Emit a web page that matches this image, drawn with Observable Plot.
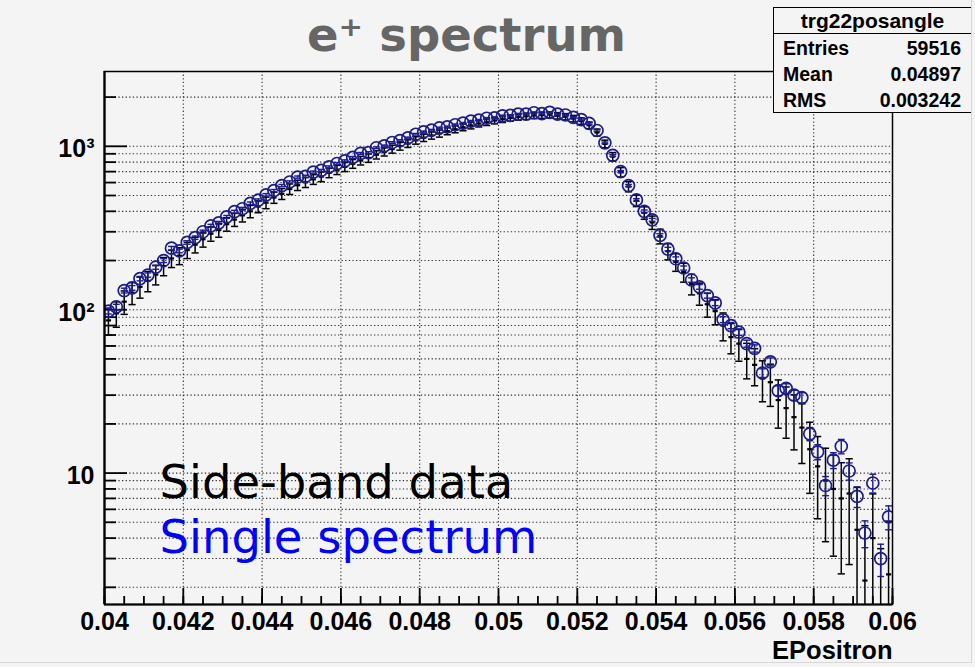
<!DOCTYPE html>
<html>
<head>
<meta charset="utf-8">
<script src="https://cdn.jsdelivr.net/npm/d3@7"></script>
<script src="https://cdn.jsdelivr.net/npm/@observablehq/plot@0.6"></script>
<style>
  html, body { margin: 0; padding: 0; background: #f4f4f4; }
  #chart { position: relative; width: 975px; height: 667px; }
  #chart svg { position: absolute; left: 0; top: 0; }
  .stats {
    position: absolute; left: 773px; top: 7px; width: 199px; height: 106px;
    box-sizing: border-box; border: 1.5px solid #000; background: #f4f4f4;
    font-family: "Liberation Sans", Arial, sans-serif; font-weight: bold; color: #000;
  }
  .stats .head { height: 25px; line-height: 25px; font-size: 21px; text-align: center; border-bottom: 1.5px solid #000; }
  .stats .row { display: flex; justify-content: space-between; height: 26px; line-height: 29px; font-size: 19.5px; padding: 0 10px 0 9px; }
  .frame-edge { position: absolute; left: 0; top: 0; width: 972px; height: 663px; box-sizing: border-box; border-right: 1px solid #d8d8d8; border-bottom: 1px solid #d8d8d8; pointer-events: none; }
</style>
</head>
<body>
<div id="chart"></div>
<script>
// Histogram binning of EPositron: 100 bins from 0.04 to 0.06
const binLow = 0.04;
const binWidth = 0.0002;

// Single spectrum (blue open circles), counts per bin
const singleCounts = [
  98, 104, 131, 136, 155, 163, 182, 200, 238, 229,
  258, 276, 300, 326, 340, 370, 398, 415, 448, 468,
  505, 535, 575, 605, 648, 655, 695, 712, 748, 785,
  815, 855, 905, 915, 980, 1005, 1055, 1085, 1125, 1185,
  1225, 1255, 1295, 1315, 1355, 1385, 1425, 1445, 1485, 1495,
  1535, 1545, 1575, 1575, 1605, 1585, 1612, 1575, 1555, 1505,
  1455, 1380, 1250, 1050, 880, 700, 575, 470, 400, 355,
  285, 235, 205, 180, 152, 138, 122, 110, 87, 80,
  73, 62, 58, 41, 48, 32, 33, 30, 29, 17.4,
  13.5, 8.4, 12, 14.6, 10.3, 7.2, 4.3, 8.7, 3.0, 5.4
];

// Side-band data (black), scaled counts per bin
const sidebandCounts = [
  86, 95, 112, 127, 138, 150, 164, 185, 206, 214,
  232, 250, 270, 292, 308, 334, 356, 378, 400, 428,
  452, 486, 512, 548, 578, 602, 628, 652, 688, 718,
  748, 782, 818, 848, 888, 925, 962, 1002, 1040, 1088,
  1128, 1165, 1198, 1238, 1272, 1308, 1342, 1378, 1405, 1438,
  1465, 1490, 1512, 1528, 1545, 1552, 1560, 1538, 1518, 1478,
  1428, 1345, 1215, 1035, 865, 695, 568, 465, 392, 342,
  282, 228, 196, 170, 144, 126, 108, 98, 80, 68,
  62, 50, 46, 38, 36, 28, 25, 22, 19, 14,
  11, 9, 8, 7, 7.5, 4.5, 2.2, 4, 1.4, 2.4
];

// Per-event weights of the two samples (errors are sqrt(sum of w^2))
const singleWeight = 0.15;
const sidebandWeight = 3;

const xDomain = [0.04, 0.06];
const yDomain = [1.57, 2870];
const xMajorTicks = [0.04, 0.042, 0.044, 0.046, 0.048, 0.05, 0.052, 0.054, 0.056, 0.058, 0.06];
const yLabelTicks = [10, 100, 1000];
const yLabelText = {10: "10", 100: "10\u00b2", 1000: "10\u00b3"};

const statsTitle = "trg22posangle";
const statsRows = [["Entries", "59516"], ["Mean", "0.04897"], ["RMS", "0.003242"]];

function binTable(counts, weight) {
  return counts.map((n, i) => {
    const err = Math.sqrt(n * weight);
    return {x: binLow + binWidth * (i + 0.5), y: n, lo: Math.max(n - err, 0.05), hi: n + err};
  });
}
const single = binTable(singleCounts, singleWeight);
const sideband = binTable(sidebandCounts, sidebandWeight);

// log-axis minor positions 2..9 x 10^k inside the y domain
const yMinor = [];
for (const dec of [1, 10, 100, 1000]) for (let m = 1; m <= 9; ++m) {
  const v = m * dec;
  if (v >= yDomain[0] && v <= yDomain[1]) yMinor.push(v);
}
const xMinor = d3.range(0, 41).map(i => xDomain[0] + i * 0.0005);
const xInnerMajor = xMajorTicks.slice(1, -1);

// flat cap used for error-bar ends
const hbar = {draw(ctx, size) { const w = Math.sqrt(size / Math.PI); ctx.moveTo(-w, 0); ctx.lineTo(w, 0); }};

const labelFont = "'Liberation Sans', Arial, sans-serif";
const frameW = 975 - 104 - 83;
const frameH = 667 - 71 - 63;
const navy = "#1c1c8c";

const chart = Plot.plot({
  width: 975,
  height: 667,
  marginLeft: 104,
  marginRight: 83,
  marginTop: 71,
  marginBottom: 63,
  style: {background: "transparent", overflow: "visible"},
  x: {domain: xDomain, axis: null},
  y: {type: "log", domain: yDomain, axis: null},
  marks: [
    // dotted grid
    Plot.ruleY(yMinor, {stroke: "#000", strokeOpacity: 0.8, strokeDasharray: "1.3,2.3", strokeWidth: 1.1}),
    Plot.ruleX(xInnerMajor, {stroke: "#000", strokeOpacity: 0.8, strokeDasharray: "1.3,2.3", strokeWidth: 1.1}),

    // inward tick marks on the left and bottom axes
    Plot.tickY(yMinor.filter(v => !yLabelTicks.includes(v)), {stroke: "#000", strokeWidth: 1.8, insetRight: frameW - 12}),
    Plot.tickY(yLabelTicks, {stroke: "#000", strokeWidth: 1.8, insetRight: frameW - 23}),
    Plot.tickX(xMinor, {stroke: "#000", strokeWidth: 1.8, insetTop: frameH - 8}),
    Plot.tickX(xMajorTicks, {stroke: "#000", strokeWidth: 1.8, insetTop: frameH - 16}),

    // side-band data: black error bars
    Plot.ruleX(sideband, {x: "x", y1: "lo", y2: "hi", stroke: "#000", strokeWidth: 1.5, clip: true}),
    Plot.dot(sideband, {x: "x", y: "lo", symbol: hbar, r: 3.6, stroke: "#000", strokeWidth: 1.5, fill: "none", clip: true}),
    Plot.dot(sideband, {x: "x", y: "hi", symbol: hbar, r: 3.6, stroke: "#000", strokeWidth: 1.5, fill: "none", clip: true}),
    Plot.dot(sideband, {x: "x", y: "y", symbol: hbar, r: 2.6, stroke: "#000", strokeWidth: 2.2, fill: "none", clip: true}),

    // single spectrum: navy error bars and open circles
    Plot.ruleX(single, {x: "x", y1: "lo", y2: "hi", stroke: navy, strokeWidth: 1.4, clip: true}),
    Plot.dot(single, {x: "x", y: "lo", symbol: hbar, r: 3.4, stroke: navy, strokeWidth: 1.4, fill: "none", clip: true}),
    Plot.dot(single, {x: "x", y: "hi", symbol: hbar, r: 3.4, stroke: navy, strokeWidth: 1.4, fill: "none", clip: true}),
    Plot.dot(single, {x: "x", y: "y", r: 6, stroke: navy, strokeWidth: 1.7, fill: "none", clip: true}),

    // frame, with heavier axis lines
    Plot.frame({stroke: "#000", strokeWidth: 1.5}),
    Plot.ruleX([xDomain[0]], {stroke: "#000", strokeWidth: 2.2}),
    Plot.ruleY([yDomain[0]], {stroke: "#000", strokeWidth: 2.2}),

    // axis labels
    Plot.axisY({ticks: yLabelTicks, tickSize: 0, tickPadding: 10, dy: 3, tickFormat: d => yLabelText[d],
      fontSize: 25, fontWeight: "bold", fontFamily: labelFont, fill: "#000", label: null}),
    Plot.axisX({ticks: xMajorTicks, tickSize: 0, tickPadding: 8, tickFormat: d => String(+d.toFixed(4)),
      fontSize: 25, fontWeight: "bold", fontFamily: labelFont, fill: "#000", label: null}),
    Plot.text(["EPositron"], {frameAnchor: "bottom-right", dy: 54, lineAnchor: "bottom", textAnchor: "end",
      fontSize: 25.5, fontWeight: "bold", fontFamily: labelFont, fill: "#000"}),

    // title
    Plot.text(["e\u207a spectrum"], {frameAnchor: "top-left", dx: 362, dy: -21, lineAnchor: "bottom", textAnchor: "middle",
      fontSize: 46.5, fontWeight: "bold", fontFamily: "'DejaVu Sans', sans-serif", fill: "#666"}),

    // legend
    Plot.text(["Side-band data"], {frameAnchor: "bottom-left", dx: 55, dy: -107, lineAnchor: "bottom", textAnchor: "start",
      fontSize: 46.5, fontFamily: "'DejaVu Sans', sans-serif", fill: "#000"}),
    Plot.text(["Single spectrum"], {frameAnchor: "bottom-left", dx: 55, dy: -52, lineAnchor: "bottom", textAnchor: "start",
      fontSize: 46.5, fontFamily: "'DejaVu Sans', sans-serif", fill: "#0000ff"})
  ]
});

const root = document.getElementById("chart");
root.append(chart);

// statistics box
const box = document.createElement("div");
box.className = "stats";
const head = document.createElement("div");
head.className = "head";
head.textContent = statsTitle;
box.append(head);
for (const [k, v] of statsRows) {
  const row = document.createElement("div");
  row.className = "row";
  const a = document.createElement("span"); a.textContent = k;
  const b = document.createElement("span"); b.textContent = v;
  row.append(a, b);
  box.append(row);
}
root.append(box);

const edge = document.createElement("div");
edge.className = "frame-edge";
root.append(edge);
</script>
</body>
</html>
